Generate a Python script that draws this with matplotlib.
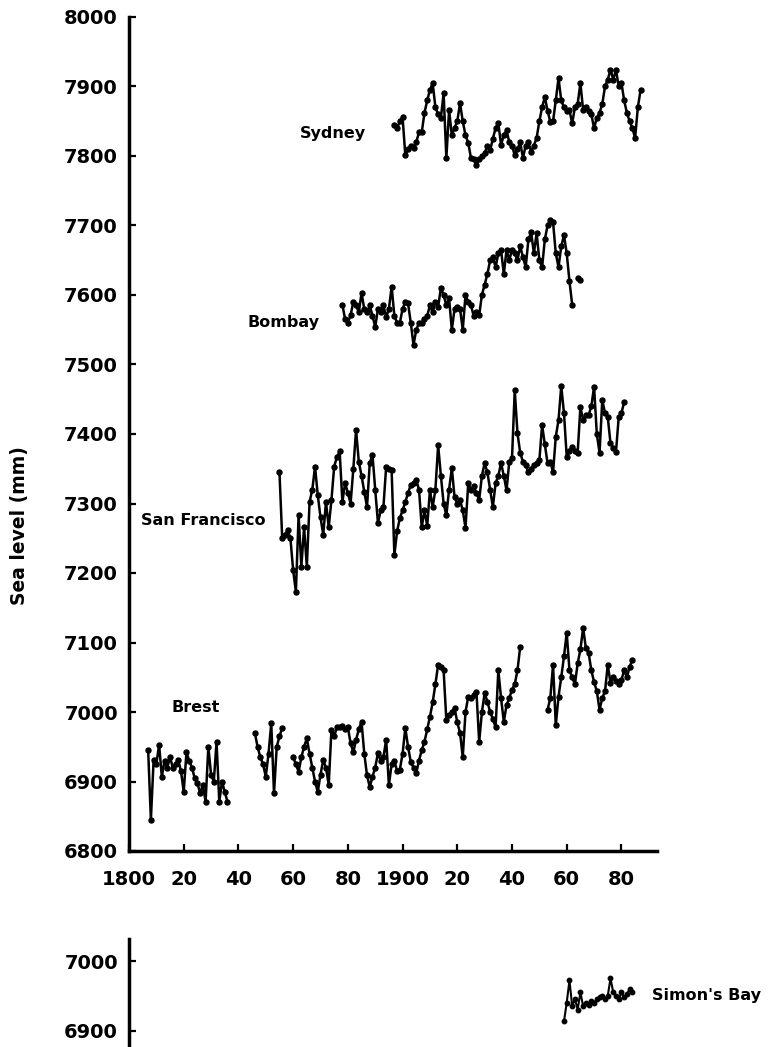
import numpy as np
import matplotlib.pyplot as plt

nan = np.nan

# annual mean sea level (mm)
brest_start = 1807
brest = [6945, 6845, 6931, 6925, 6953, 6907, 6930, 6920, 6935, 6920,
         6925, 6931, 6915, 6885, 6942, 6930, 6920, 6905, 6898, 6883,
         6895, 6871, 6950, 6910, 6900, 6957, 6871, 6900, 6885, 6871,
         nan, nan, nan, nan, nan, nan, nan, nan, nan,
         6970, 6950, 6935, 6925, 6907, 6940, 6984, 6883, 6950, 6965,
         6977, nan, nan, nan,
         6935, 6925, 6914, 6935, 6950, 6962, 6940, 6920, 6900, 6885,
         6910, 6931, 6920, 6895, 6974, 6965, 6978, 6978, 6980, 6975,
         6978, 6955, 6942, 6960, 6975, 6986, 6940, 6909, 6892, 6907,
         6920, 6941, 6930, 6935, 6960, 6895, 6925, 6930, 6915, 6917,
         6940, 6977, 6950, 6928, 6920, 6912, 6930, 6945, 6957, 6975,
         6993, 7014, 7040, 7068, 7065, 7060, 6988, 6995, 7000, 7006,
         6985, 6970, 6935, 7000, 7022, 7020, 7025, 7029, 6957, 7000,
         7027, 7015, 7000, 6990, 6978, 7060, 7020, 6986, 7010, 7020,
         7032, 7040, 7060, 7094,
         nan, nan, nan, nan, nan, nan, nan, nan, nan,
         7003, 7020, 7068, 6981, 7022, 7050, 7080, 7114, 7060, 7050,
         7040, 7070, 7090, 7121, 7092, 7085, 7060, 7043, 7030, 7003,
         7020, 7030, 7068, 7042, 7050, 7045, 7040, 7046, 7060, 7050,
         7065, 7075]

sf_start = 1855
san_francisco = [7345, 7250, 7255, 7262, 7250, 7204, 7173, 7283, 7209, 7266,
                 7209, 7302, 7320, 7353, 7312, 7280, 7255, 7302, 7266, 7305,
                 7353, 7367, 7375, 7302, 7330, 7315, 7300, 7350, 7406, 7360,
                 7340, 7317, 7295, 7358, 7370, 7320, 7272, 7290, 7295, 7353,
                 7350, 7348, 7226, 7260, 7279, 7290, 7302, 7315, 7327, 7330,
                 7334, 7320, 7266, 7290, 7268, 7319, 7295, 7320, 7384, 7340,
                 7300, 7283, 7320, 7351, 7309, 7300, 7305, 7290, 7265, 7329,
                 7320, 7325, 7315, 7305, 7340, 7358, 7345, 7320, 7295, 7329,
                 7340, 7358, 7340, 7319, 7360, 7365, 7463, 7401, 7373, 7360,
                 7355, 7345, 7350, 7355, 7358, 7362, 7413, 7385, 7358, 7360,
                 7345, 7396, 7420, 7469, 7430, 7367, 7375, 7381, 7375, 7373,
                 7439, 7420, 7427, 7427, 7440, 7468, 7400, 7373, 7449, 7430,
                 7424, 7387, 7380, 7374, 7424, 7430, 7446]

bombay_start = 1878
bombay = [7586, 7565, 7560, 7571, 7590, 7585, 7575, 7603, 7580, 7575,
          7585, 7570, 7554, 7580, 7575, 7585, 7568, 7580, 7612, 7570,
          7560, 7560, 7580, 7590, 7588, 7560, 7528, 7550, 7560, 7560,
          7565, 7570, 7585, 7575, 7590, 7583, 7610, 7600, 7585, 7595,
          7550, 7580, 7583, 7580, 7550, 7600, 7590, 7585, 7570, 7575,
          7571, 7600, 7615, 7630, 7650, 7655, 7640, 7660, 7665, 7630,
          7665, 7650, 7665, 7660, 7650, 7670, 7655, 7640, 7680, 7690,
          7660, 7689, 7650, 7640, 7680, 7700, 7708, 7705, 7660, 7640,
          7670, 7686, 7660, 7620, 7586, nan, 7625, 7622]

sydney_start = 1897
sydney = [7845, 7840, 7850, 7856, 7801, 7810, 7815, 7811, 7820, 7834,
          7834, 7862, 7880, 7895, 7905, 7870, 7860, 7855, 7890, 7797,
          7866, 7830, 7840, 7850, 7876, 7850, 7830, 7819, 7797, 7795,
          7787, 7795, 7800, 7804, 7815, 7808, 7825, 7840, 7847, 7816,
          7830, 7837, 7820, 7815, 7801, 7810, 7820, 7797, 7815, 7820,
          7806, 7815, 7826, 7850, 7870, 7885, 7865, 7849, 7850, 7880,
          7912, 7880, 7870, 7865, 7866, 7847, 7870, 7875, 7905, 7866,
          7870, 7865, 7860, 7840, 7855, 7862, 7875, 7900, 7910, 7924,
          7910, 7924, 7900, 7905, 7880, 7862, 7850, 7840, 7826, 7870,
          7895]

simons_start = 1959
simons_bay = [6913, 6940, 6972, 6935, 6945, 6930, 6955, 6935, 6940, 6937,
              6942, 6940, 6945, 6948, 6950, 6945, 6950, 6975, 6955, 6950,
              6945, 6955, 6948, 6952, 6960, 6955]

x_ticks = [1800, 1820, 1840, 1860, 1880, 1900, 1920, 1940, 1960, 1980]
x_labels = ['1800', '20', '40', '60', '80', '1900', '20', '40', '60', '80']

plt.rcParams['font.family'] = 'DejaVu Sans'
plt.rcParams['font.weight'] = 'bold'

W, H = 778, 1047
fig = plt.figure(figsize=(W / 100, H / 100), dpi=100)

# main panel
ax = fig.add_axes([129 / W, 1 - 851 / H, (657 - 129) / W, (851 - 17) / H])
ax.set_xlim(1800, 1993)
ax.set_ylim(6800, 8000)

series = [(brest_start, brest), (sf_start, san_francisco),
          (bombay_start, bombay), (sydney_start, sydney)]
for start, vals in series:
    vals = np.array(vals, dtype=float)
    yrs = start + np.arange(len(vals))
    ax.plot(yrs, vals, '-o', color='black', lw=1.8, ms=3.6)

ax.text(1874.6, 7833, 'Sydney', ha='center', va='center', fontsize=11.5)
ax.text(1856.6, 7561, 'Bombay', ha='center', va='center', fontsize=11.5)
ax.text(1827, 7276, 'San Francisco', ha='center', va='center', fontsize=11.5)
ax.text(1824.5, 7006, 'Brest', ha='center', va='center', fontsize=11.5)

ax.set_xticks(x_ticks)
ax.set_xticklabels(x_labels)
ax.set_yticks(np.arange(6800, 8001, 100))
ax.set_ylabel('Sea level (mm)', fontsize=13.5, fontweight='bold')
ax.yaxis.set_label_coords(-0.19, 0.39)

for s in ['top', 'right']:
    ax.spines[s].set_visible(False)
for s in ['left', 'bottom']:
    ax.spines[s].set_linewidth(2.5)
ax.tick_params(direction='in', length=5, width=1.6, labelsize=14)
ax.tick_params(axis='x', pad=14)
ax.tick_params(axis='y', pad=8)

# small lower panel (Simon's Bay)
ax2 = fig.add_axes([129 / W, 0, (657 - 129) / W, (1047 - 939) / H])
ax2.set_xlim(1800, 1993)
ax2.set_ylim(6876.3, 7031.7)
sb = np.array(simons_bay, dtype=float)
ax2.plot(simons_start + np.arange(len(sb)), sb, '-o', color='black', lw=1.5, ms=3.2)
ax2.text(1991, 6951, "Simon's Bay", ha='left', va='center', fontsize=11.5, clip_on=False)
ax2.set_yticks([6900, 7000])
ax2.set_xticks([])
for s in ['top', 'right', 'bottom']:
    ax2.spines[s].set_visible(False)
ax2.spines['left'].set_linewidth(2.5)
ax2.tick_params(direction='in', length=5, width=1.6, labelsize=14, pad=8)

fig.savefig('out.png', dpi=100)
plt.close(fig)
